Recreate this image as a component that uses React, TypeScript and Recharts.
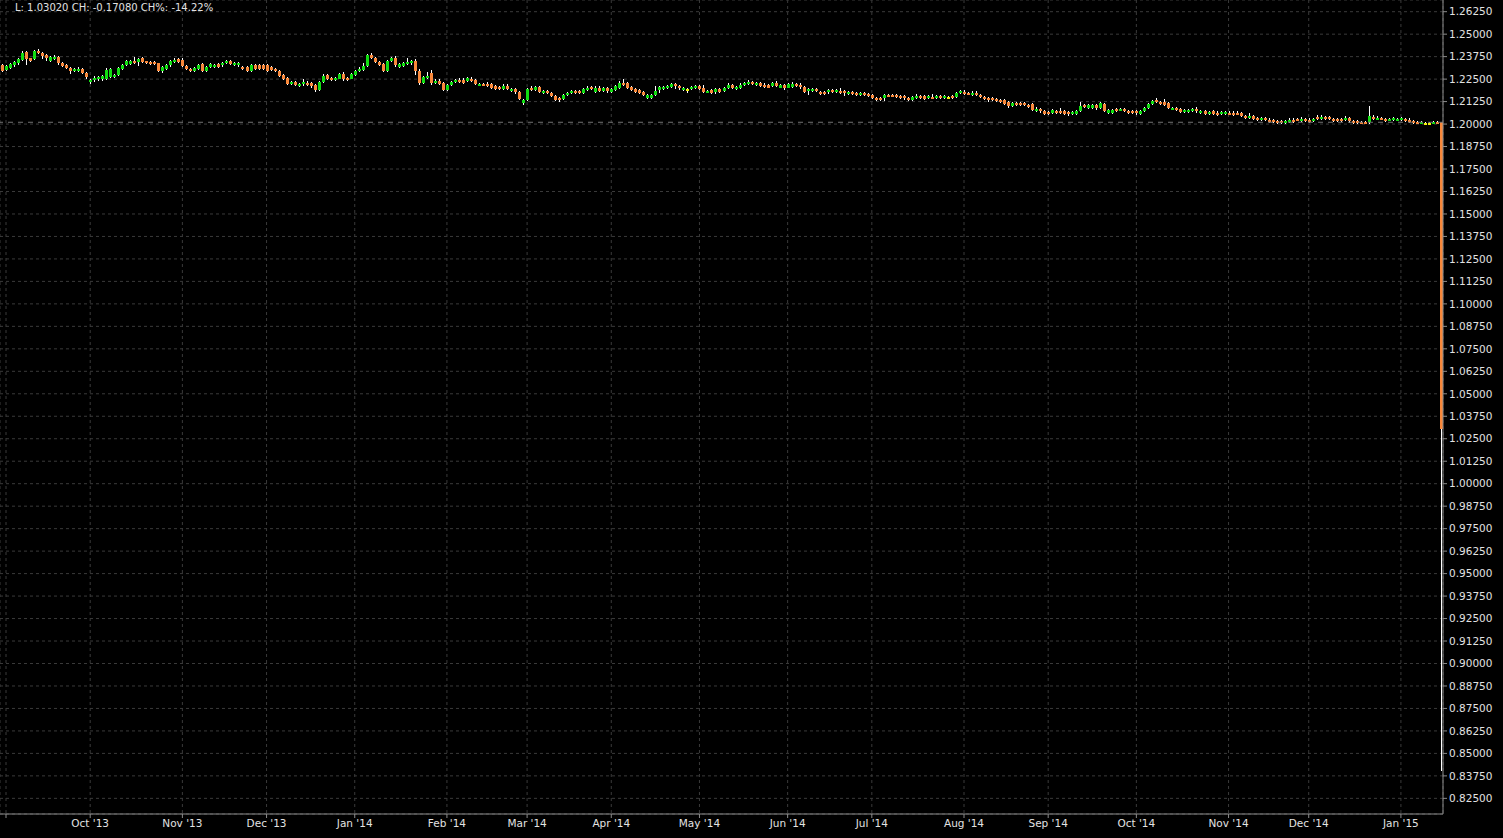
import { ComposedChart, Bar, XAxis, YAxis, CartesianGrid, ReferenceLine } from 'recharts';

// [open, high, low, close], one row per trading day (EUR/CHF daily)
type Candle = [number, number, number, number];

const lateAug13: Candle[] = [
  [1.2328, 1.2333, 1.2290, 1.2296],
];
const sep13: Candle[] = [
  [1.2300, 1.2330, 1.2294, 1.2324], [1.2313, 1.2338, 1.2305, 1.2332], [1.2326, 1.2350, 1.2320, 1.2344],
  [1.2337, 1.2366, 1.2330, 1.2360], [1.2355, 1.2404, 1.2350, 1.2398], [1.2402, 1.2408, 1.2330, 1.2360],
  [1.2365, 1.2370, 1.2345, 1.2352], [1.2361, 1.2411, 1.2355, 1.2406], [1.2408, 1.2417, 1.2388, 1.2393],
  [1.2393, 1.2400, 1.2360, 1.2378], [1.2383, 1.2390, 1.2350, 1.2370], [1.2352, 1.2377, 1.2345, 1.2371],
  [1.2361, 1.2385, 1.2355, 1.2374], [1.2374, 1.2380, 1.2330, 1.2337], [1.2341, 1.2345, 1.2318, 1.2324],
  [1.2328, 1.2333, 1.2305, 1.2313], [1.2311, 1.2316, 1.2280, 1.2294], [1.2294, 1.2311, 1.2288, 1.2305],
  [1.2294, 1.2315, 1.2288, 1.2309], [1.2305, 1.2310, 1.2280, 1.2285], [1.2285, 1.2290, 1.2252, 1.2259],
];
const oct13: Candle[] = [
  [1.2232, 1.2250, 1.2225, 1.2244], [1.2244, 1.2265, 1.2233, 1.2256], [1.2250, 1.2270, 1.2238, 1.2263],
  [1.2253, 1.2275, 1.2240, 1.2268], [1.2250, 1.2310, 1.2245, 1.2303], [1.2264, 1.2312, 1.2258, 1.2305],
  [1.2264, 1.2278, 1.2258, 1.2272], [1.2272, 1.2320, 1.2266, 1.2313], [1.2309, 1.2335, 1.2303, 1.2328],
  [1.2328, 1.2358, 1.2322, 1.2352], [1.2334, 1.2358, 1.2328, 1.2352], [1.2350, 1.2372, 1.2336, 1.2341],
  [1.2343, 1.2368, 1.2325, 1.2363], [1.2367, 1.2372, 1.2340, 1.2346], [1.2348, 1.2352, 1.2336, 1.2341],
  [1.2346, 1.2352, 1.2331, 1.2337], [1.2343, 1.2350, 1.2328, 1.2334], [1.2337, 1.2342, 1.2288, 1.2294],
  [1.2294, 1.2324, 1.2285, 1.2318], [1.2309, 1.2334, 1.2303, 1.2328], [1.2326, 1.2356, 1.2320, 1.2350],
  [1.2344, 1.2365, 1.2338, 1.2359], [1.2362, 1.2370, 1.2340, 1.2346],
];
const nov13: Candle[] = [
  [1.2359, 1.2365, 1.2316, 1.2322], [1.2324, 1.2330, 1.2298, 1.2304], [1.2305, 1.2311, 1.2288, 1.2294],
  [1.2294, 1.2320, 1.2288, 1.2314], [1.2309, 1.2334, 1.2303, 1.2328], [1.2333, 1.2340, 1.2290, 1.2296],
  [1.2294, 1.2324, 1.2288, 1.2318], [1.2318, 1.2338, 1.2312, 1.2332], [1.2318, 1.2334, 1.2312, 1.2328],
  [1.2332, 1.2338, 1.2312, 1.2318], [1.2326, 1.2347, 1.2320, 1.2341], [1.2341, 1.2358, 1.2335, 1.2352],
  [1.2350, 1.2356, 1.2328, 1.2333], [1.2328, 1.2347, 1.2322, 1.2341], [1.2326, 1.2343, 1.2320, 1.2337],
  [1.2318, 1.2324, 1.2299, 1.2305], [1.2318, 1.2324, 1.2288, 1.2294], [1.2294, 1.2334, 1.2288, 1.2328],
  [1.2328, 1.2334, 1.2299, 1.2305], [1.2330, 1.2336, 1.2303, 1.2309], [1.2328, 1.2334, 1.2303, 1.2309],
];
const dec13: Candle[] = [
  [1.2328, 1.2334, 1.2288, 1.2294], [1.2318, 1.2324, 1.2294, 1.2300], [1.2305, 1.2311, 1.2288, 1.2294],
  [1.2296, 1.2302, 1.2260, 1.2266], [1.2272, 1.2278, 1.2245, 1.2251], [1.2257, 1.2263, 1.2219, 1.2225],
  [1.2225, 1.2242, 1.2219, 1.2236], [1.2236, 1.2242, 1.2210, 1.2216], [1.2210, 1.2231, 1.2205, 1.2225],
  [1.2222, 1.2250, 1.2210, 1.2235], [1.2229, 1.2240, 1.2210, 1.2216], [1.2229, 1.2235, 1.2200, 1.2210],
  [1.2216, 1.2222, 1.2177, 1.2188], [1.2188, 1.2242, 1.2182, 1.2235], [1.2235, 1.2278, 1.2230, 1.2266],
  [1.2272, 1.2278, 1.2245, 1.2253], [1.2257, 1.2262, 1.2238, 1.2244], [1.2244, 1.2262, 1.2238, 1.2257],
  [1.2253, 1.2283, 1.2248, 1.2277], [1.2277, 1.2290, 1.2240, 1.2253], [1.2257, 1.2262, 1.2238, 1.2244],
  [1.2253, 1.2283, 1.2248, 1.2277],
];
const jan14: Candle[] = [
  [1.2272, 1.2300, 1.2266, 1.2294], [1.2294, 1.2320, 1.2288, 1.2309], [1.2300, 1.2340, 1.2294, 1.2324],
  [1.2322, 1.2389, 1.2316, 1.2383], [1.2383, 1.2395, 1.2360, 1.2370], [1.2370, 1.2375, 1.2338, 1.2343],
  [1.2346, 1.2352, 1.2322, 1.2328], [1.2332, 1.2340, 1.2288, 1.2294], [1.2294, 1.2356, 1.2288, 1.2350],
  [1.2350, 1.2375, 1.2345, 1.2367], [1.2367, 1.2380, 1.2320, 1.2328], [1.2318, 1.2338, 1.2312, 1.2332],
  [1.2324, 1.2343, 1.2318, 1.2337], [1.2332, 1.2370, 1.2326, 1.2346], [1.2337, 1.2356, 1.2331, 1.2350],
  [1.2350, 1.2362, 1.2272, 1.2296], [1.2296, 1.2305, 1.2220, 1.2231], [1.2231, 1.2268, 1.2225, 1.2263],
  [1.2257, 1.2290, 1.2251, 1.2268], [1.2285, 1.2300, 1.2220, 1.2229], [1.2229, 1.2250, 1.2222, 1.2240],
  [1.2240, 1.2250, 1.2219, 1.2225], [1.2229, 1.2235, 1.2182, 1.2188],
];
const feb14: Candle[] = [
  [1.2188, 1.2222, 1.2182, 1.2216], [1.2216, 1.2242, 1.2210, 1.2235], [1.2235, 1.2250, 1.2229, 1.2244],
  [1.2244, 1.2255, 1.2229, 1.2235], [1.2244, 1.2255, 1.2225, 1.2231], [1.2238, 1.2263, 1.2232, 1.2257],
  [1.2250, 1.2260, 1.2232, 1.2238], [1.2244, 1.2250, 1.2219, 1.2225], [1.2216, 1.2231, 1.2210, 1.2225],
  [1.2225, 1.2231, 1.2210, 1.2216], [1.2222, 1.2235, 1.2206, 1.2212], [1.2222, 1.2228, 1.2197, 1.2203],
  [1.2210, 1.2216, 1.2191, 1.2197], [1.2206, 1.2212, 1.2188, 1.2194], [1.2194, 1.2222, 1.2188, 1.2212],
  [1.2212, 1.2222, 1.2188, 1.2194], [1.2185, 1.2200, 1.2180, 1.2194], [1.2194, 1.2200, 1.2170, 1.2180],
  [1.2180, 1.2186, 1.2136, 1.2142], [1.2117, 1.2142, 1.2105, 1.2136],
];
const mar14: Candle[] = [
  [1.2132, 1.2200, 1.2126, 1.2194], [1.2199, 1.2210, 1.2182, 1.2188], [1.2188, 1.2212, 1.2182, 1.2206],
  [1.2206, 1.2212, 1.2174, 1.2180], [1.2171, 1.2191, 1.2165, 1.2185], [1.2185, 1.2191, 1.2165, 1.2171],
  [1.2174, 1.2180, 1.2151, 1.2157], [1.2157, 1.2163, 1.2126, 1.2132], [1.2145, 1.2151, 1.2125, 1.2132],
  [1.2138, 1.2166, 1.2132, 1.2160], [1.2160, 1.2180, 1.2155, 1.2174], [1.2171, 1.2188, 1.2166, 1.2183],
  [1.2185, 1.2191, 1.2165, 1.2171], [1.2185, 1.2191, 1.2165, 1.2171], [1.2171, 1.2200, 1.2165, 1.2194],
  [1.2188, 1.2210, 1.2182, 1.2203], [1.2206, 1.2212, 1.2188, 1.2194], [1.2180, 1.2210, 1.2175, 1.2203],
  [1.2202, 1.2210, 1.2177, 1.2183], [1.2183, 1.2208, 1.2177, 1.2202], [1.2199, 1.2205, 1.2172, 1.2183],
];
const apr14: Candle[] = [
  [1.2180, 1.2199, 1.2175, 1.2194], [1.2188, 1.2216, 1.2183, 1.2210], [1.2203, 1.2240, 1.2197, 1.2229],
  [1.2229, 1.2248, 1.2210, 1.2216], [1.2229, 1.2235, 1.2196, 1.2202], [1.2205, 1.2210, 1.2182, 1.2188],
  [1.2194, 1.2199, 1.2171, 1.2177], [1.2188, 1.2194, 1.2166, 1.2171], [1.2177, 1.2183, 1.2155, 1.2160],
  [1.2147, 1.2166, 1.2142, 1.2160], [1.2147, 1.2170, 1.2142, 1.2164], [1.2160, 1.2210, 1.2155, 1.2183],
  [1.2188, 1.2212, 1.2175, 1.2206], [1.2193, 1.2210, 1.2188, 1.2205], [1.2198, 1.2218, 1.2193, 1.2212],
  [1.2207, 1.2228, 1.2202, 1.2222], [1.2225, 1.2231, 1.2195, 1.2210], [1.2212, 1.2218, 1.2188, 1.2198],
  [1.2188, 1.2205, 1.2183, 1.2199], [1.2194, 1.2200, 1.2171, 1.2194], [1.2194, 1.2213, 1.2188, 1.2207],
  [1.2198, 1.2216, 1.2193, 1.2210],
];
const may14: Candle[] = [
  [1.2210, 1.2216, 1.2188, 1.2194], [1.2199, 1.2216, 1.2175, 1.2180], [1.2177, 1.2190, 1.2171, 1.2183],
  [1.2188, 1.2194, 1.2166, 1.2171], [1.2177, 1.2199, 1.2166, 1.2194], [1.2194, 1.2199, 1.2171, 1.2177],
  [1.2183, 1.2208, 1.2177, 1.2202], [1.2198, 1.2226, 1.2193, 1.2220], [1.2216, 1.2222, 1.2193, 1.2198],
  [1.2194, 1.2213, 1.2188, 1.2207], [1.2202, 1.2226, 1.2197, 1.2220], [1.2216, 1.2235, 1.2210, 1.2229],
  [1.2221, 1.2244, 1.2216, 1.2235], [1.2235, 1.2242, 1.2216, 1.2221], [1.2216, 1.2235, 1.2210, 1.2229],
  [1.2229, 1.2235, 1.2205, 1.2210], [1.2220, 1.2226, 1.2202, 1.2207], [1.2216, 1.2222, 1.2198, 1.2203],
  [1.2210, 1.2235, 1.2205, 1.2229], [1.2229, 1.2240, 1.2205, 1.2210], [1.2203, 1.2222, 1.2198, 1.2216],
  [1.2216, 1.2222, 1.2190, 1.2203],
];
const jun14: Candle[] = [
  [1.2203, 1.2231, 1.2198, 1.2225], [1.2207, 1.2233, 1.2202, 1.2225], [1.2225, 1.2231, 1.2207, 1.2212],
  [1.2220, 1.2226, 1.2195, 1.2207], [1.2207, 1.2213, 1.2175, 1.2180], [1.2183, 1.2199, 1.2160, 1.2194],
  [1.2185, 1.2199, 1.2180, 1.2194], [1.2194, 1.2199, 1.2177, 1.2183], [1.2177, 1.2183, 1.2160, 1.2166],
  [1.2177, 1.2183, 1.2160, 1.2166], [1.2180, 1.2194, 1.2166, 1.2188], [1.2188, 1.2194, 1.2171, 1.2177],
  [1.2180, 1.2194, 1.2175, 1.2188], [1.2183, 1.2199, 1.2168, 1.2174], [1.2183, 1.2190, 1.2155, 1.2171],
  [1.2166, 1.2183, 1.2160, 1.2177], [1.2177, 1.2183, 1.2160, 1.2166], [1.2171, 1.2177, 1.2155, 1.2160],
  [1.2160, 1.2177, 1.2155, 1.2171], [1.2171, 1.2177, 1.2155, 1.2160], [1.2166, 1.2171, 1.2151, 1.2157],
];
const jul14: Candle[] = [
  [1.2160, 1.2166, 1.2141, 1.2147], [1.2145, 1.2151, 1.2130, 1.2136], [1.2145, 1.2151, 1.2130, 1.2136],
  [1.2143, 1.2166, 1.2130, 1.2160], [1.2164, 1.2170, 1.2150, 1.2155], [1.2164, 1.2170, 1.2150, 1.2155],
  [1.2160, 1.2166, 1.2145, 1.2151], [1.2157, 1.2163, 1.2140, 1.2145], [1.2157, 1.2163, 1.2135, 1.2145],
  [1.2145, 1.2151, 1.2130, 1.2136], [1.2136, 1.2155, 1.2130, 1.2149], [1.2147, 1.2166, 1.2142, 1.2157],
  [1.2155, 1.2160, 1.2140, 1.2145], [1.2155, 1.2160, 1.2132, 1.2138], [1.2145, 1.2160, 1.2140, 1.2155],
  [1.2151, 1.2166, 1.2138, 1.2143], [1.2145, 1.2160, 1.2140, 1.2155], [1.2155, 1.2160, 1.2140, 1.2145],
  [1.2145, 1.2163, 1.2140, 1.2157], [1.2150, 1.2157, 1.2145, 1.2150], [1.2157, 1.2163, 1.2142, 1.2147],
  [1.2151, 1.2177, 1.2145, 1.2171], [1.2171, 1.2188, 1.2166, 1.2183],
];
const aug14: Candle[] = [
  [1.2180, 1.2188, 1.2160, 1.2166], [1.2175, 1.2180, 1.2160, 1.2166], [1.2160, 1.2183, 1.2155, 1.2175],
  [1.2175, 1.2183, 1.2155, 1.2160], [1.2160, 1.2166, 1.2145, 1.2151], [1.2151, 1.2157, 1.2132, 1.2138],
  [1.2147, 1.2153, 1.2125, 1.2136], [1.2145, 1.2153, 1.2126, 1.2132], [1.2138, 1.2143, 1.2123, 1.2129],
  [1.2136, 1.2142, 1.2118, 1.2123], [1.2132, 1.2138, 1.2108, 1.2114], [1.2120, 1.2126, 1.2090, 1.2101],
  [1.2101, 1.2121, 1.2095, 1.2116], [1.2116, 1.2121, 1.2099, 1.2104], [1.2116, 1.2121, 1.2099, 1.2104],
  [1.2116, 1.2121, 1.2099, 1.2104], [1.2108, 1.2114, 1.2090, 1.2095], [1.2110, 1.2116, 1.2071, 1.2076],
  [1.2071, 1.2093, 1.2065, 1.2082], [1.2082, 1.2088, 1.2060, 1.2071], [1.2071, 1.2076, 1.2050, 1.2058],
];
const sep14: Candle[] = [
  [1.2067, 1.2073, 1.2049, 1.2054], [1.2064, 1.2082, 1.2058, 1.2076], [1.2073, 1.2079, 1.2056, 1.2062],
  [1.2071, 1.2090, 1.2056, 1.2062], [1.2073, 1.2079, 1.2052, 1.2058], [1.2067, 1.2073, 1.2045, 1.2054],
  [1.2054, 1.2073, 1.2049, 1.2067], [1.2058, 1.2079, 1.2052, 1.2073], [1.2071, 1.2120, 1.2065, 1.2099],
  [1.2104, 1.2110, 1.2090, 1.2095], [1.2091, 1.2110, 1.2086, 1.2104], [1.2091, 1.2114, 1.2086, 1.2108],
  [1.2108, 1.2114, 1.2080, 1.2091], [1.2087, 1.2125, 1.2082, 1.2116], [1.2110, 1.2116, 1.2068, 1.2073],
  [1.2064, 1.2082, 1.2058, 1.2076], [1.2064, 1.2082, 1.2058, 1.2076], [1.2082, 1.2088, 1.2065, 1.2071],
  [1.2076, 1.2091, 1.2071, 1.2085], [1.2085, 1.2091, 1.2065, 1.2071], [1.2073, 1.2079, 1.2056, 1.2062],
  [1.2073, 1.2079, 1.2056, 1.2062],
];
const oct14: Candle[] = [
  [1.2073, 1.2079, 1.2050, 1.2062], [1.2058, 1.2079, 1.2052, 1.2073], [1.2073, 1.2096, 1.2068, 1.2090],
  [1.2090, 1.2116, 1.2085, 1.2110], [1.2110, 1.2132, 1.2105, 1.2127], [1.2132, 1.2143, 1.2115, 1.2120],
  [1.2123, 1.2130, 1.2105, 1.2110], [1.2123, 1.2138, 1.2103, 1.2108], [1.2118, 1.2124, 1.2085, 1.2090],
  [1.2082, 1.2096, 1.2077, 1.2090], [1.2090, 1.2096, 1.2071, 1.2076], [1.2082, 1.2088, 1.2060, 1.2065],
  [1.2065, 1.2082, 1.2060, 1.2076], [1.2067, 1.2082, 1.2060, 1.2076], [1.2071, 1.2090, 1.2065, 1.2085],
  [1.2085, 1.2095, 1.2060, 1.2071], [1.2062, 1.2079, 1.2056, 1.2073], [1.2071, 1.2077, 1.2052, 1.2058],
  [1.2058, 1.2073, 1.2052, 1.2067], [1.2071, 1.2077, 1.2052, 1.2058], [1.2064, 1.2073, 1.2043, 1.2049],
  [1.2058, 1.2073, 1.2052, 1.2067], [1.2058, 1.2073, 1.2052, 1.2067],
];
const nov14: Candle[] = [
  [1.2064, 1.2070, 1.2048, 1.2053], [1.2062, 1.2073, 1.2043, 1.2049], [1.2064, 1.2070, 1.2048, 1.2053],
  [1.2062, 1.2068, 1.2038, 1.2043], [1.2045, 1.2051, 1.2029, 1.2034], [1.2034, 1.2062, 1.2029, 1.2045],
  [1.2045, 1.2051, 1.2025, 1.2030], [1.2036, 1.2042, 1.2016, 1.2021], [1.2021, 1.2040, 1.2016, 1.2034],
  [1.2034, 1.2040, 1.2016, 1.2021], [1.2025, 1.2031, 1.2007, 1.2012], [1.2021, 1.2027, 1.2007, 1.2012],
  [1.2018, 1.2024, 1.2002, 1.2007], [1.2018, 1.2024, 1.2002, 1.2007], [1.2007, 1.2024, 1.2002, 1.2018],
  [1.2012, 1.2031, 1.2007, 1.2025], [1.2025, 1.2031, 1.2007, 1.2012], [1.2030, 1.2036, 1.2016, 1.2021],
  [1.2018, 1.2040, 1.2013, 1.2027], [1.2027, 1.2033, 1.2013, 1.2018],
];
const dec14: Candle[] = [
  [1.2025, 1.2031, 1.2007, 1.2012], [1.2016, 1.2033, 1.2011, 1.2027], [1.2040, 1.2050, 1.2022, 1.2027],
  [1.2027, 1.2050, 1.2022, 1.2040], [1.2040, 1.2046, 1.2020, 1.2027], [1.2040, 1.2046, 1.2020, 1.2027],
  [1.2030, 1.2036, 1.2013, 1.2018], [1.2027, 1.2033, 1.2013, 1.2018], [1.2027, 1.2033, 1.2011, 1.2016],
  [1.2021, 1.2045, 1.2016, 1.2034], [1.2036, 1.2042, 1.2007, 1.2018], [1.2015, 1.2020, 1.2002, 1.2006],
  [1.2015, 1.2020, 1.2002, 1.2006], [1.2012, 1.2018, 1.2000, 1.2003], [1.2012, 1.2018, 1.2000, 1.2003],
  [1.2012, 1.2101, 1.2002, 1.2043], [1.2040, 1.2051, 1.2022, 1.2027], [1.2027, 1.2045, 1.2022, 1.2036],
  [1.2036, 1.2042, 1.2020, 1.2025], [1.2027, 1.2033, 1.2013, 1.2018], [1.2021, 1.2036, 1.2016, 1.2030],
  [1.2021, 1.2040, 1.2016, 1.2034], [1.2021, 1.2036, 1.2016, 1.2030],
];
const jan15: Candle[] = [
  [1.2021, 1.2040, 1.2016, 1.2034], [1.2027, 1.2033, 1.2013, 1.2018], [1.2025, 1.2031, 1.2007, 1.2012],
  [1.2015, 1.2020, 1.2002, 1.2006], [1.2012, 1.2018, 1.2000, 1.2003], [1.2003, 1.2018, 1.2000, 1.2012],
  [1.2008, 1.2014, 1.2003, 1.2008], [1.2008, 1.2014, 1.2003, 1.2008], [1.2003, 1.2018, 1.2000, 1.2012],
  [1.2014, 1.2018, 1.2004, 1.2010], [1.2010, 1.2010, 0.8400, 1.0302],
];

const START_DATE = '2013-08-30';
const END_DATE = '2015-01-15';

const monthLabels = [
  "Sep '13", "Oct '13", "Nov '13", "Dec '13", "Jan '14", "Feb '14", "Mar '14", "Apr '14", "May '14",
  "Jun '14", "Jul '14", "Aug '14", "Sep '14", "Oct '14", "Nov '14", "Dec '14", "Jan '15",
];
// Sep '13 starts at the very left edge, its label is cut off in the original
const hiddenLabels = ["Sep '13"];

const yTicks = [
  0.825, 0.8375, 0.85, 0.8625, 0.875, 0.8875, 0.9, 0.9125, 0.925, 0.9375, 0.95, 0.9625,
  0.975, 0.9875, 1.0, 1.0125, 1.025, 1.0375, 1.05, 1.0625, 1.075, 1.0875, 1.1, 1.1125,
  1.125, 1.1375, 1.15, 1.1625, 1.175, 1.1875, 1.2, 1.2125, 1.225, 1.2375, 1.25, 1.2625,
];

const UP = '#12dc12';
const DOWN = '#f8883b';
const FLAT = '#f2f20a';
const FONT = '"DejaVu Sans", Verdana, sans-serif';

function weekdays(from: string, to: string): string[] {
  const out: string[] = [];
  const d = new Date(from + 'T00:00:00Z');
  const end = new Date(to + 'T00:00:00Z');
  while (d <= end) {
    const wd = d.getUTCDay();
    if (wd !== 0 && wd !== 6) out.push(d.toISOString().slice(0, 10));
    d.setUTCDate(d.getUTCDate() + 1);
  }
  return out;
}

const candles: Candle[] = [
  lateAug13, sep13, oct13, nov13, dec13, jan14, feb14, mar14, apr14,
  may14, jun14, jul14, aug14, sep14, oct14, nov14, dec14, jan15,
].flat();

const dates = weekdays(START_DATE, END_DATE);
const n = Math.min(dates.length, candles.length);

const rows = candles.slice(0, n).map((c, i) => ({
  d: dates[i],
  open: c[0],
  high: c[1],
  low: c[2],
  close: c[3],
  range: [c[2], c[1]],
}));

// first trading day of every month -> tick + grid line
const monthTicks: string[] = [];
rows.forEach((r, i) => {
  if (i > 0 && r.d.slice(0, 7) !== rows[i - 1].d.slice(0, 7)) monthTicks.push(r.d);
});
const tickLabel: Record<string, string> = {};
monthTicks.forEach((t, i) => { tickLabel[t] = monthLabels[i] ?? ''; });

const last = rows[rows.length - 1];
const prevClose = rows[rows.length - 2].close;
const change = last.close - prevClose;
const headline = `L: ${last.close.toFixed(5)} CH: ${change.toFixed(5)} CH%: ${((change / prevClose) * 100).toFixed(2)}%`;

function CandleShape(props: any) {
  const { x, y, width, height, payload } = props;
  if (!payload || height == null || isNaN(y)) return <g />;
  const { open, high, low, close } = payload;
  const span = high - low;
  const k = span > 0 ? height / span : 0;
  const yOf = (v: number) => y + (high - v) * k;
  const cx = Math.round(x + width / 2 - 0.5);
  const top = yOf(Math.max(open, close));
  const bot = yOf(Math.min(open, close));
  const color = close > open ? UP : close < open ? DOWN : FLAT;
  return (
    <g shapeRendering="crispEdges">
      <rect x={cx} y={y} width={1} height={Math.max(height, 1)} fill="#ffffff" />
      <rect x={cx - 1} y={top} width={3} height={Math.max(bot - top, 2)} fill={color} />
    </g>
  );
}

export default function App() {
  return (
    <div style={{ position: 'fixed', left: 0, top: 0, width: 1503, height: 838, background: '#000', overflow: 'hidden' }}>
      <ComposedChart width={1503} height={838} data={rows} margin={{ top: 0, right: 0, bottom: 0, left: 0 }}>
        <CartesianGrid stroke="#3a3a3a" strokeDasharray="3 3" />
        <XAxis
          dataKey="d"
          ticks={monthTicks}
          interval={0}
          height={24}
          stroke="#8c8c8c"
          tickSize={4}
          tickMargin={2}
          tick={{ fill: '#e2e2e2', fontSize: 10.5, fontFamily: FONT }}
          tickFormatter={(v: string) => (hiddenLabels.includes(tickLabel[v]) ? '' : tickLabel[v] ?? '')}
        />
        <YAxis
          orientation="right"
          type="number"
          domain={[0.8163, 1.269]}
          allowDataOverflow
          ticks={yTicks}
          interval={0}
          width={60}
          stroke="#8c8c8c"
          tickSize={4}
          tickMargin={2}
          tick={{ fill: '#e2e2e2', fontSize: 10.5, fontFamily: FONT, textAnchor: 'start' }}
          tickFormatter={(v: number) => v.toFixed(5)}
        />
        <ReferenceLine y={prevClose} stroke="#707070" strokeDasharray="5 5" ifOverflow="hidden" />
        <Bar dataKey="range" barSize={3} shape={CandleShape} isAnimationActive={false} />
      </ComposedChart>
      <div
        style={{
          position: 'absolute', left: 15, top: 2, color: '#e2e2e2', fontSize: 10,
          fontFamily: FONT, whiteSpace: 'pre', pointerEvents: 'none',
        }}
      >
        {headline}
      </div>
    </div>
  );
}
